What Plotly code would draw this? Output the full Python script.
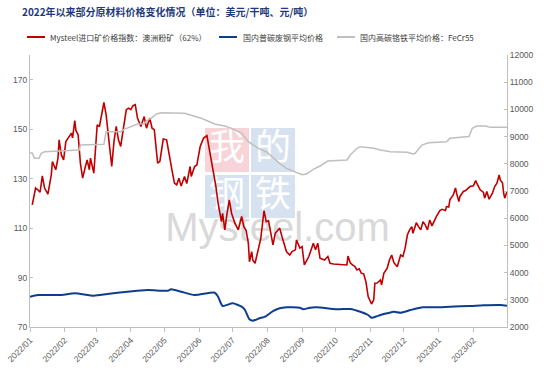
import plotly.graph_objects as go

# ---------------- data ----------------
ore_dates = [
 "2022-01-03","2022-01-04","2022-01-06","2022-01-08","2022-01-10","2022-01-12","2022-01-14","2022-01-17","2022-01-20","2022-01-21",
 "2022-01-24","2022-01-26","2022-01-27","2022-01-29","2022-01-31","2022-02-02","2022-02-07","2022-02-08","2022-02-10","2022-02-11",
 "2022-02-13","2022-02-15","2022-02-17","2022-02-19","2022-02-21","2022-02-23","2022-02-24","2022-02-27","2022-03-01","2022-03-02",
 "2022-03-04","2022-03-08","2022-03-10","2022-03-11","2022-03-13","2022-03-15","2022-03-17","2022-03-19","2022-03-21","2022-03-23",
 "2022-03-25","2022-03-28","2022-03-30","2022-04-01","2022-04-03","2022-04-05","2022-04-07","2022-04-10","2022-04-13","2022-04-15",
 "2022-04-18","2022-04-20","2022-04-22","2022-04-25","2022-04-27","2022-04-30","2022-05-03","2022-05-06","2022-05-08","2022-05-10",
 "2022-05-12","2022-05-14","2022-05-16","2022-05-19","2022-05-21","2022-05-24","2022-05-25","2022-05-28","2022-05-30","2022-06-02",
 "2022-06-05","2022-06-08","2022-06-11","2022-06-14","2022-06-16","2022-06-18","2022-06-21","2022-06-22","2022-06-24","2022-06-26",
 "2022-06-28","2022-06-30","2022-07-03","2022-07-06","2022-07-09","2022-07-11","2022-07-13","2022-07-15","2022-07-16","2022-07-18",
 "2022-07-19","2022-07-21","2022-07-23","2022-07-26","2022-07-29","2022-07-31","2022-08-02","2022-08-04","2022-08-06","2022-08-08",
 "2022-08-10","2022-08-12","2022-08-14","2022-08-15","2022-08-18","2022-08-21","2022-08-23","2022-08-26","2022-08-27","2022-08-30",
 "2022-09-01","2022-09-03","2022-09-05","2022-09-07","2022-09-10","2022-09-11","2022-09-13","2022-09-15","2022-09-17","2022-09-21",
 "2022-09-24","2022-09-26","2022-09-29","2022-10-11","2022-10-12","2022-10-14","2022-10-16","2022-10-18","2022-10-20","2022-10-22",
 "2022-10-24","2022-10-26","2022-10-28","2022-10-30","2022-11-02","2022-11-04","2022-11-05","2022-11-07","2022-11-10","2022-11-11",
 "2022-11-13","2022-11-16","2022-11-18","2022-11-20","2022-11-22","2022-11-25","2022-11-28","2022-11-30","2022-12-02","2022-12-04",
 "2022-12-06","2022-12-08","2022-12-09","2022-12-12","2022-12-14","2022-12-16","2022-12-18","2022-12-20","2022-12-22","2022-12-24",
 "2022-12-26","2022-12-29","2022-12-30","2023-01-02","2023-01-04","2023-01-07","2023-01-08","2023-01-10","2023-01-11","2023-01-14",
 "2023-01-16","2023-01-17","2023-01-19","2023-01-20","2023-01-23","2023-01-25","2023-01-28","2023-01-29","2023-02-01","2023-02-03",
 "2023-02-04","2023-02-06","2023-02-07","2023-02-10","2023-02-11","2023-02-13","2023-02-15","2023-02-18","2023-02-20","2023-02-22",
 "2023-02-24","2023-02-25","2023-02-27","2023-02-28","2023-03-01","2023-03-03"]
ore_values = [
 119.4,122.1,126.2,125.5,124.5,131.1,126.2,123.7,131.5,136.9,
 133.6,138.3,145.7,139.6,137.6,145.0,148.4,146.5,153.5,149.5,
 147.7,136.3,130.2,134.0,137.6,133.6,138.3,132.2,144.4,151.8,
 151.0,160.8,155.8,151.0,141.7,134.9,145.0,151.1,145.7,143.0,
 149.1,157.9,158.5,157.9,159.5,159.9,154.5,151.1,155.1,150.4,
 154.5,150.4,149.8,136.3,137.0,146.0,145.7,136.9,132.9,128.2,
 127.5,130.2,127.0,130.9,128.0,134.9,130.9,134.9,135.5,143.0,
 146.4,147.4,140.3,132.9,126.9,120.1,112.6,116.0,109.3,116.0,
 121.4,116.0,112.0,109.3,114.7,110.6,109.0,103.9,96.4,100.5,
 97.0,95.8,99.8,105.5,117.0,112.6,113.0,108.6,103.2,107.9,
 109.0,110.0,106.6,105.0,100.5,99.1,100.5,101.2,105.2,101.9,
 102.5,95.1,97.1,98.5,102.5,103.9,101.2,103.9,97.8,97.1,
 98.5,95.8,95.5,95.1,98.7,96.0,95.1,94.5,93.1,93.5,
 91.7,91.5,88.3,82.3,79.3,81.0,87.7,87.8,89.0,87.0,
 91.7,93.8,97.1,99.1,96.0,94.4,99.1,98.5,101.9,107.2,
 109.3,110.6,107.9,112.2,110.6,109.3,112.6,111.3,109.3,113.3,
 110.9,114.0,114.7,117.1,117.6,117.1,118.7,118.5,121.4,123.4,
 126.2,124.1,120.7,122.8,124.8,125.2,126.2,126.8,127.1,129.2,
 128.2,126.2,125.5,124.4,122.1,124.8,121.7,124.1,126.8,128.2,
 131.5,129.5,128.2,124.1,122.1,124.8]

scrap_dates = [
 "2022-01-01","2022-01-08","2022-01-29","2022-02-10","2022-02-27","2022-03-11","2022-03-29","2022-04-16","2022-05-04","2022-05-07",
 "2022-05-16","2022-05-28","2022-06-15","2022-06-18","2022-06-22","2022-07-01","2022-07-09","2022-07-12","2022-07-16","2022-07-19",
 "2022-07-25","2022-07-30","2022-08-06","2022-08-12","2022-08-18","2022-08-23","2022-08-30","2022-09-02","2022-09-08","2022-09-14",
 "2022-10-02","2022-10-14","2022-10-23","2022-10-30","2022-11-02","2022-11-07","2022-11-10","2022-11-16","2022-11-22","2022-11-28",
 "2022-12-07","2022-12-18","2022-12-30","2023-01-11","2023-01-29","2023-02-10","2023-02-25","2023-03-03"]
scrap_values = [
 3114,3176,3176,3239,3151,3213,3298,3360,3334,3385,
 3298,3176,3261,3114,2772,2871,2746,2625,2283,2232,
 2320,2379,2588,2687,2724,2724,2710,2651,2709,2724,
 2651,2662,2562,2441,2342,2400,2441,2504,2562,2526,
 2625,2724,2724,2746,2772,2798,2809,2783]

fecr_dates = [
 "2022-01-01","2022-01-03","2022-01-05","2022-01-09","2022-01-11","2022-01-14","2022-02-14","2022-02-15","2022-03-08","2022-03-10",
 "2022-03-23","2022-03-26","2022-04-07","2022-04-13","2022-04-15","2022-04-19","2022-04-24","2022-04-28","2022-05-19","2022-06-03",
 "2022-06-15","2022-06-24","2022-06-30","2022-07-09","2022-07-15","2022-07-24","2022-07-31","2022-08-05","2022-08-12","2022-08-18",
 "2022-08-26","2022-09-01","2022-09-05","2022-09-11","2022-09-17","2022-09-24","2022-10-11","2022-10-14","2022-10-20","2022-10-23",
 "2022-11-04","2022-11-10","2022-11-19","2022-12-04","2022-12-09","2022-12-11","2022-12-17","2022-12-23","2023-01-08","2023-01-11",
 "2023-01-28","2023-01-31","2023-02-04","2023-02-12","2023-02-16","2023-03-03"]
fecr_values = [
 8400,8400,8200,8200,8385,8444,8507,8690,8716,9179,
 9179,9268,9462,9462,9584,9672,9830,9878,9855,9672,
 9462,9389,9304,9120,8812,8569,8444,8260,8017,7834,
 7709,7600,7624,7797,7918,8101,8139,8323,8569,8629,
 8569,8507,8444,8422,8360,8385,8690,8775,8812,8937,
 9000,9304,9389,9389,9340,9340]

month_ticks = ["2022-01-01","2022-02-01","2022-03-01","2022-04-01","2022-05-01","2022-06-01","2022-07-01",
               "2022-08-01","2022-09-01","2022-10-01","2022-11-01","2022-12-01","2023-01-01","2023-02-01"]
month_labels = ["2022/01","2022/02","2022/03","2022/04","2022/05","2022/06","2022/07",
                "2022/08","2022/09","2022/10","2022/11","2022/12","2023/01","2023/02"]

series_names = ["Mysteel进口矿价格指数：澳洲粉矿（62%）", "国内普碳废钢平均价格", "国内高碳铬铁平均价格：FeCr55"]
series_colors = ["#C00000", "#0E3D8E", "#BFBFBF"]
title_text = "2022年以来部分原材料价格变化情况（单位：美元/干吨、元/吨）"

# ---------------- figure ----------------
W, H = 553, 386
L, R, T, B = 30, 46, 55, 59
pw, ph = W - L - R, H - T - B
fig = go.Figure()

fig.add_trace(go.Scatter(x=fecr_dates, y=fecr_values, name=series_names[2], yaxis="y2",
                         mode="lines", line=dict(color=series_colors[2], width=1.5)))
fig.add_trace(go.Scatter(x=scrap_dates, y=scrap_values, name=series_names[1], yaxis="y2",
                         mode="lines", line=dict(color=series_colors[1], width=2, shape="spline", smoothing=0.6)))
fig.add_trace(go.Scatter(x=ore_dates, y=ore_values, name=series_names[0], yaxis="y",
                         mode="lines", line=dict(color=series_colors[0], width=1.6)))

tickfont = dict(family="Liberation Sans, Arial", size=8.5, color="#595959")
fig.update_layout(
    width=W, height=H,
    margin=dict(l=L, r=R, t=T, b=B, autoexpand=False),
    paper_bgcolor="white", plot_bgcolor="white",
    showlegend=False,
    title=dict(text="<b>" + title_text + "</b>", xref="container", yref="container",
               x=22 / W, y=1 - 12.5 / H, xanchor="left", yanchor="middle",
               font=dict(family="Noto Sans CJK SC", size=10, color="#1F3A7A")),
    xaxis=dict(type="date", range=["2022-01-01", "2023-03-03"], tickmode="array", tickvals=month_ticks,
               ticktext=month_labels, tickangle=-45, ticks="outside", ticklen=4,
               tickcolor="#BFBFBF", showline=True, linecolor="#BFBFBF", linewidth=1,
               showgrid=False, zeroline=False, tickfont=tickfont),
    yaxis=dict(range=[70, 180], tickmode="linear", tick0=70, dtick=20, ticks="inside", ticklen=3,
               tickcolor="#BFBFBF", showline=True, linecolor="#BFBFBF", showgrid=False, zeroline=False,
               tickfont=tickfont),
    yaxis2=dict(range=[2000, 12000], tickmode="linear", tick0=2000, dtick=1000, overlaying="y", side="right",
                tickformat="d", ticks="inside", ticklen=3, tickcolor="#BFBFBF", showline=True,
                linecolor="#BFBFBF", showgrid=False, zeroline=False, tickfont=tickfont),
)

# ---------------- legend (drawn manually, one row as in the original) ----------------
def px_x(x):
    return (x - L) / pw
def px_y(y):
    return (H - B - y) / ph

legend_items = [(27, 45, 48), (219, 237, 241), (337, 355, 358)]  # line start, line end, text start (px)
legend_y = 37
for (x0, x1, xt), name, col in zip(legend_items, series_names, series_colors):
    fig.add_shape(type="line", xref="paper", yref="paper", x0=px_x(x0), x1=px_x(x1),
                  y0=px_y(legend_y), y1=px_y(legend_y), line=dict(color=col, width=2))
    fig.add_annotation(xref="paper", yref="paper", x=px_x(xt), y=px_y(legend_y), text=name,
                       showarrow=False, xanchor="left", yanchor="middle",
                       font=dict(family="Noto Sans CJK SC", size=8, color="#404040"))

# ---------------- watermark (below traces) ----------------
def px_to_paper(x0, x1, y0, y1):
    return dict(x0=px_x(x0), x1=px_x(x1), y0=px_y(y1), y1=px_y(y0))

boxes = [("我", 205, 249, 128, 172, "#F8D3D7"), ("的", 251, 295, 128, 172, "#D6E2F0"),
         ("钢", 205, 249, 175, 218, "#D6E2F0"), ("铁", 251, 295, 175, 218, "#D6E2F0")]
for ch, a, b_, c, d, col in boxes:
    fig.add_shape(type="rect", xref="paper", yref="paper", layer="below", line=dict(width=0),
                  fillcolor=col, **px_to_paper(a, b_, c, d),
                  label=dict(text=ch, font=dict(family="Noto Sans CJK SC", size=36, color="white"),
                             textposition="middle center"))
fig.add_shape(type="rect", xref="paper", yref="paper", layer="below", line=dict(width=0),
              fillcolor="rgba(0,0,0,0)", **px_to_paper(170, 385, 198, 248),
              label=dict(text="Mysteel.com", font=dict(family="Liberation Sans, Arial", size=40, color="#D9D9D9"),
                         textposition="middle center"))

# remove the default 8px page margin so the figure sits at the window origin
fig.write_html("out.html", config={"displayModeBar": False},
               post_script="document.body.style.margin='0px';")
